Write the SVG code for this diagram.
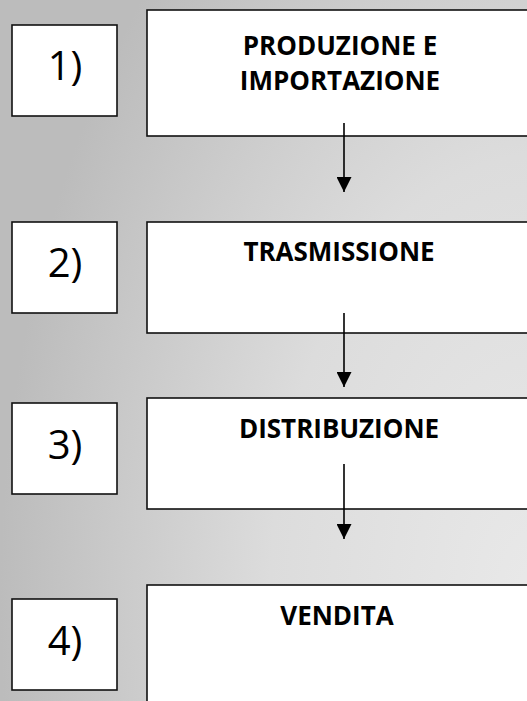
<svg xmlns="http://www.w3.org/2000/svg" width="527" height="701" viewBox="0 0 527 701">
  <defs>
    <radialGradient id="bg" gradientUnits="userSpaceOnUse" cx="540" cy="600" r="540" gradientTransform="translate(540 600) scale(1 1.65) translate(-540 -600)">
      <stop offset="0" stop-color="#e9e9e9"/>
      <stop offset="0.5" stop-color="#dcdcdc"/>
      <stop offset="1" stop-color="#bcbcbc"/>
    </radialGradient>
    <marker id="arrow" markerUnits="userSpaceOnUse" markerWidth="15" markerHeight="15" refX="15" refY="7.5" orient="auto">
      <path d="M0,0 L15,7.5 L0,15 Z" fill="#000"/>
    </marker>
  </defs>
  <style>
    .box { fill: #fff; stroke: #111; stroke-width: 1.6; }
    .num { font-family: "Open Sans", "Liberation Sans", sans-serif; font-size: 40px; fill: #000; text-anchor: middle; }
    .lbl { font-family: "Open Sans", "Liberation Sans", sans-serif; font-size: 26px; font-weight: bold; fill: #000; text-anchor: middle; }
    .conn { stroke: #000; stroke-width: 1.6; fill: none; marker-end: url(#arrow); }
  </style>
  <rect x="0" y="0" width="527" height="701" fill="url(#bg)"/>

  <g id="num1"><rect class="box" x="12" y="25" width="105" height="91"/><text class="num" x="65" y="80">1)</text></g>
  <g id="num2"><rect class="box" x="12" y="222" width="105" height="91"/><text class="num" x="65" y="277">2)</text></g>
  <g id="num3"><rect class="box" x="12" y="403" width="105" height="91"/><text class="num" x="65" y="459">3)</text></g>
  <g id="num4"><rect class="box" x="12" y="599" width="105" height="91"/><text class="num" x="65" y="655">4)</text></g>

  <g id="produzione"><rect class="box" x="147" y="10" width="386" height="126"/>
    <text class="lbl" x="340" y="55">PRODUZIONE E</text>
    <text class="lbl" x="340" y="90">IMPORTAZIONE</text></g>
  <g id="trasmissione"><rect class="box" x="147" y="222" width="386" height="111"/>
    <text class="lbl" x="339" y="261">TRASMISSIONE</text></g>
  <g id="distribuzione"><rect class="box" x="147" y="398" width="386" height="111"/>
    <text class="lbl" x="339" y="438">DISTRIBUZIONE</text></g>
  <g id="vendita"><rect class="box" x="147" y="585" width="386" height="126"/>
    <text class="lbl" x="337" y="625">VENDITA</text></g>

  <g id="connectors">
    <line class="conn" x1="344" y1="123" x2="344" y2="192"/>
    <line class="conn" x1="344" y1="313" x2="344" y2="387"/>
    <line class="conn" x1="344" y1="464" x2="344" y2="539"/>
  </g>
</svg>
